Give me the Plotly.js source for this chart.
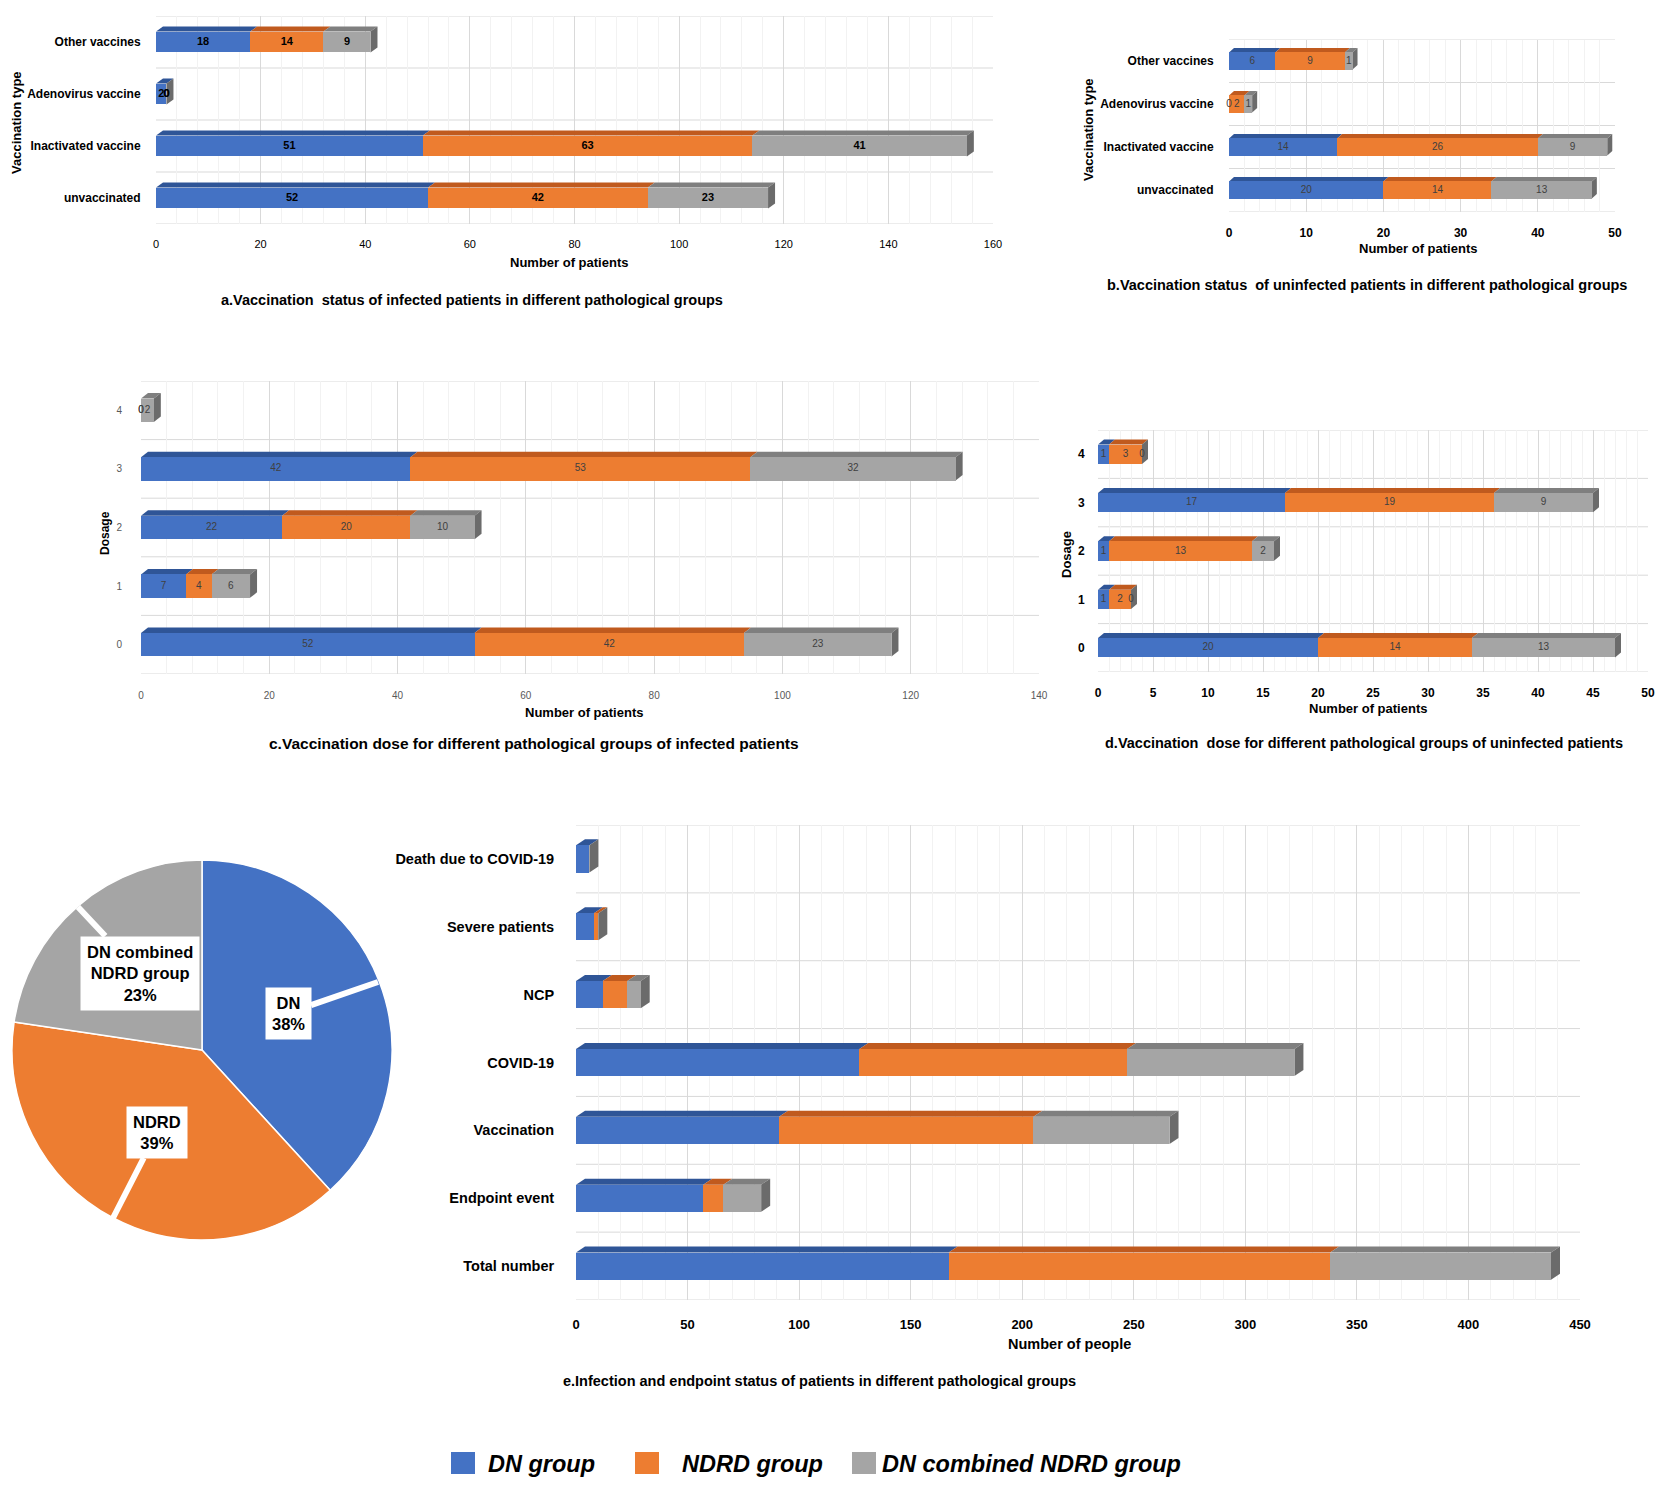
<!DOCTYPE html>
<html><head><meta charset="utf-8">
<script src="https://cdn.plot.ly/plotly-3.0.1.min.js"></script>
<style>html,body{margin:0;padding:0;background:#fff}#chart{width:1665px;height:1492px}</style>
</head><body><div id="chart"></div>
<script>
// ---------------- DATA ----------------
const groupNames = ['DN group', 'NDRD group', 'DN combined NDRD group'];

// a. infected patients, by vaccine type
const vaccineTypes = ['Other vaccines', 'Adenovirus vaccine', 'Inactivated vaccine', 'unvaccinated'];
const infTypeDN   = [18, 2, 51, 52];
const infTypeNDRD = [14, 0, 63, 42];
const infTypeComb = [9, 0, 41, 23];

// b. uninfected patients, by vaccine type
const uninfTypeDN   = [6, 0, 14, 20];
const uninfTypeNDRD = [9, 2, 26, 14];
const uninfTypeComb = [1, 1, 9, 13];

// c. infected patients, by dosage
const dosages = ['4', '3', '2', '1', '0'];
const infDoseDN   = [0, 42, 22, 7, 52];
const infDoseNDRD = [0, 53, 20, 4, 42];
const infDoseComb = [2, 32, 10, 6, 23];

// d. uninfected patients, by dosage
const uninfDoseDN   = [1, 17, 1, 1, 20];
const uninfDoseNDRD = [3, 19, 13, 2, 14];
const uninfDoseComb = [0, 9, 2, 0, 13];

// e. infection and endpoint status
const statusCats = ['Death due to COVID-19', 'Severe patients', 'NCP', 'COVID-19', 'Vaccination', 'Endpoint event', 'Total number'];
const statusDN   = [6, 8, 12, 127, 91, 57, 167];
const statusNDRD = [0, 2, 11, 120, 114, 9, 171];
const statusComb = [0, 0, 6, 75, 61, 17, 99];

// pie: share of total patients
const pieLabels = ['DN', 'NDRD', 'DN combined NDRD group'];
const pieShortLabels = ['DN', 'NDRD', 'DN combined<br>NDRD group'];
const pieValues = [167, 171, 99];

// titles
const panelTitles = [
  'a.Vaccination  status of infected patients in different pathological groups',
  'b.Vaccination status  of uninfected patients in different pathological groups',
  'c.Vaccination dose for different pathological groups of infected patients',
  'd.Vaccination  dose for different pathological groups of uninfected patients',
  'e.Infection and endpoint status of patients in different pathological groups'
];
const xTitles = ['Number of patients', 'Number of patients', 'Number of patients', 'Number of patients', 'Number of people'];
const yTitles = ['Vaccination type', 'Vaccination type', 'Dosage', 'Dosage', ''];

// ---------------- STYLE / LAYOUT ----------------
const W = 1665, H = 1492;
const FONT = 'Liberation Sans, Arial, Helvetica, sans-serif';
const COLORS = ['#4472C4', '#ED7D31', '#A5A5A5'];
const TOP_COLORS = ['#2F5597', '#C05A1E', '#7F7F7F'];
const SIDE_COLOR = '#6B6B6B';
const px = x => x / W;
const py = y => 1 - y / H;

const panels = [
  { cats: vaccineTypes, series: [infTypeDN, infTypeNDRD, infTypeComb], box: [156, 993, 16, 224], max: 160, dtick: 20, minor: 4,
    ytf: {size: 12, weight: 'bold', color: '#000'}, xtf: {size: 11, color: '#000'}, lab: {size: 11, weight: 'bold', color: '#000'},
    xlen: 10, ylen: 12, d: 7, e: 5,
    title: {x: 472, y: 300, size: 14.5}, xt: {x: 569, y: 262, size: 13}, yt: {x: 16, y: 123, size: 13} },
  { cats: vaccineTypes, series: [uninfTypeDN, uninfTypeNDRD, uninfTypeComb], box: [1229, 1615, 39.5, 211.5], max: 50, dtick: 10, minor: 2,
    ytf: {size: 12, weight: 'bold', color: '#000'}, xtf: {size: 12, weight: 'bold', color: '#000'}, lab: {size: 10, color: '#404040'},
    xlen: 10, ylen: 12, d: 5, e: 4.5,
    title: {x: 1367, y: 285, size: 14.5}, xt: {x: 1418, y: 248, size: 13}, yt: {x: 1089, y: 130, size: 13} },
  { cats: dosages, series: [infDoseDN, infDoseNDRD, infDoseComb], box: [141, 1039, 381, 674], max: 140, dtick: 20, minor: 4,
    ytf: {size: 10, color: '#595959'}, xtf: {size: 10, color: '#595959'}, lab: {size: 10, color: '#404040'},
    xlen: 12, ylen: 16, d: 7, e: 5.5,
    title: {x: 534, y: 743, size: 15.5}, xt: {x: 584, y: 713, size: 13}, yt: {x: 105, y: 533, size: 12} },
  { cats: dosages, series: [uninfDoseDN, uninfDoseNDRD, uninfDoseComb], box: [1098, 1648, 430, 672], max: 50, dtick: 5, minor: 1,
    ytf: {size: 12, weight: 'bold', color: '#000'}, xtf: {size: 12, weight: 'bold', color: '#000'}, lab: {size: 10, color: '#404040'},
    xlen: 10, ylen: 10, d: 6, e: 5,
    title: {x: 1364, y: 743, size: 14.5}, xt: {x: 1368, y: 709, size: 13}, yt: {x: 1066, y: 555, size: 13} },
  { cats: statusCats, series: [statusDN, statusNDRD, statusComb], box: [576, 1580, 825, 1300], max: 450, dtick: 50, minor: 10,
    ytf: {size: 14.5, weight: 'bold', color: '#000'}, xtf: {size: 13, weight: 'bold', color: '#000'}, lab: null,
    xlen: 12, ylen: 18, d: 9, e: 6,
    title: {x: 819, y: 1381, size: 14.5}, xt: {x: 1069, y: 1344, size: 14.5}, yt: null }
];

const data = [];
const labelTraces = [];
const shapes = [];
const annotations = [];
const layout = {
  width: W, height: H, autosize: false,
  margin: {l: 0, r: 0, t: 0, b: 0, pad: 0},
  paper_bgcolor: '#fff', plot_bgcolor: '#fff',
  barmode: 'stack', showlegend: false,
  font: {family: FONT, color: '#000'},
  hovermode: 'closest'
};

panels.forEach((p, k) => {
  const sfx = k === 0 ? '' : String(k + 1);
  const xa = 'x' + sfx, ya = 'y' + sfx;
  const n = p.cats.length;
  const idx = p.cats.map((_, i) => i);
  const [bx0, bx1, by0, by1] = p.box;

  const cumBefore = idx.map(() => 0);
  p.series.forEach((vals, j) => {
    data.push({
      type: 'bar', orientation: 'h', x: vals, y: idx, xaxis: xa, yaxis: ya,
      name: groupNames[j], width: 0.4,
      marker: {color: COLORS[j], line: {width: 0}},
      hovertemplate: '%{customdata}<br>' + groupNames[j] + ': %{x}<extra></extra>',
      customdata: p.cats
    });
    if (p.lab) {
      // value labels at the middle of each stacked segment (zeros included)
      labelTraces.push({
        type: 'scatter', mode: 'text', xaxis: xa, yaxis: ya, cliponaxis: false,
        x: vals.map((v, i) => cumBefore[i] + v / 2), y: idx,
        text: vals.map(String), textposition: 'middle center',
        textfont: Object.assign({family: FONT}, p.lab), hoverinfo: 'skip', showlegend: false
      });
    }
    vals.forEach((v, i) => { cumBefore[i] += v; });
  });

  layout['xaxis' + sfx] = {
    domain: [px(bx0), px(bx1)], anchor: ya, range: [0, p.max], tick0: 0, dtick: p.dtick,
    showgrid: true, gridcolor: '#D9D9D9', gridwidth: 1,
    minor: {dtick: p.minor, showgrid: true, gridcolor: '#F2F2F2', gridwidth: 1},
    zeroline: false, showline: false,
    ticks: 'outside', ticklen: p.xlen, tickcolor: 'rgba(0,0,0,0)',
    tickfont: Object.assign({family: FONT}, p.xtf), fixedrange: true
  };
  layout['yaxis' + sfx] = {
    domain: [py(by1), py(by0)], anchor: xa, range: [n - 0.5, -0.5],
    tickmode: 'array', tickvals: idx, ticktext: p.cats,
    showgrid: false, zeroline: false, showline: false,
    ticks: 'outside', ticklen: p.ylen, tickcolor: 'rgba(0,0,0,0)',
    tickfont: Object.assign({family: FONT}, p.ytf), fixedrange: true
  };

  // category boundary lines
  for (let b = 0; b <= n; b++) {
    shapes.push({type: 'line', layer: 'below', xref: xa + ' domain', x0: 0, x1: 1, yref: ya, y0: b - 0.5, y1: b - 0.5,
      line: {color: '#D9D9D9', width: 1}});
  }

  // 3D faces derived from the data through the axis scale (drawn under the traces so labels stay on top)
  const pxPerUnit = (bx1 - bx0) / p.max;
  const spacing = (by1 - by0) / n;
  const dU = p.d / pxPerUnit, eU = p.e / spacing;
  const hw = 0.2;
  idx.forEach(i => {
    let cum = 0;
    p.series.forEach((vals, j) => {
      const x0 = cum, x1 = cum + vals[i];
      cum = x1;
      if (vals[i] > 0) {
        shapes.push({type: 'path', layer: 'between', xref: xa, yref: ya,
          path: `M${x0},${i - hw} L${x1},${i - hw} L${x1 + dU},${i - hw - eU} L${x0 + dU},${i - hw - eU} Z`,
          fillcolor: TOP_COLORS[j], line: {width: 0}});
      }
    });
    shapes.push({type: 'path', layer: 'between', xref: xa, yref: ya,
      path: `M${cum},${i - hw} L${cum},${i + hw} L${cum + dU},${i + hw - eU} L${cum + dU},${i - hw - eU} Z`,
      fillcolor: SIDE_COLOR, line: {width: 0}});
  });

  // titles
  annotations.push({xref: 'paper', yref: 'paper', x: px(p.title.x), y: py(p.title.y), xanchor: 'center', yanchor: 'middle',
    showarrow: false, text: '<b>' + panelTitles[k] + '</b>', font: {family: FONT, size: p.title.size, color: '#000'}});
  annotations.push({xref: 'paper', yref: 'paper', x: px(p.xt.x), y: py(p.xt.y), xanchor: 'center', yanchor: 'middle',
    showarrow: false, text: '<b>' + xTitles[k] + '</b>', font: {family: FONT, size: p.xt.size, color: '#000'}});
  if (p.yt) {
    annotations.push({xref: 'paper', yref: 'paper', x: px(p.yt.x), y: py(p.yt.y), xanchor: 'center', yanchor: 'middle',
      showarrow: false, textangle: -90, text: '<b>' + yTitles[k] + '</b>', font: {family: FONT, size: p.yt.size, color: '#000'}});
  }
});
labelTraces.forEach(t => data.push(t));

// pie
data.push({
  type: 'pie', labels: pieLabels, values: pieValues, sort: false, direction: 'clockwise', rotation: 0,
  marker: {colors: COLORS, line: {color: '#fff', width: 1.5}},
  textinfo: 'none', hovertemplate: '%{label}: %{value} (%{percent})<extra></extra>',
  domain: {x: [px(12), px(392)], y: [py(1240), py(860)]}
});
const pieTotal = pieValues.reduce((a, b) => a + b, 0);
const piePct = pieValues.map(v => Math.round(v / pieTotal * 100));
// callout boxes: [tip x, tip y, box centre x, box centre y]
const callouts = [[378, 982, 288, 1013], [113, 1218, 157, 1132], [78, 907, 140, 973]];
callouts.forEach((c, j) => {
  annotations.push({xref: 'paper', yref: 'paper', x: px(c[0]), y: py(c[1]), ax: c[2] - c[0], ay: c[3] - c[1],
    showarrow: true, arrowhead: 0, arrowwidth: 6, arrowcolor: '#fff', standoff: 0, startstandoff: 0,
    text: '<b>' + pieShortLabels[j] + '<br>' + piePct[j] + '%</b>',
    bgcolor: '#fff', borderpad: 6, font: {family: FONT, size: 16.5, color: '#000'}, align: 'center'});
});

// legend (manual, large swatches)
const legendPos = [[451, 486], [635, 680], [852, 880]];
legendPos.forEach((lp, j) => {
  shapes.push({type: 'rect', xref: 'paper', yref: 'paper', x0: px(lp[0]), x1: px(lp[0] + 24), y0: py(1474), y1: py(1452),
    fillcolor: COLORS[j], line: {width: 0}});
  annotations.push({xref: 'paper', yref: 'paper', x: px(lp[1]), y: py(1464), xanchor: 'left', yanchor: 'middle',
    showarrow: false, text: '<b><i>' + groupNames[j] + '</i></b>', font: {family: FONT, size: 23.5, color: '#000'}});
});

layout.shapes = shapes;
layout.annotations = annotations;
Plotly.newPlot('chart', data, layout, {displayModeBar: false});
</script>
</body></html>
